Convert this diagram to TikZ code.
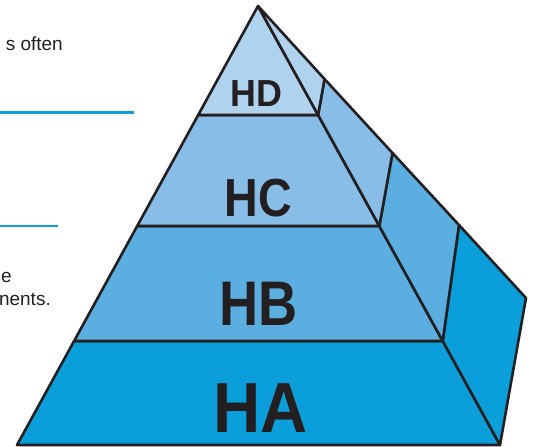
\documentclass[tikz,border=0pt]{standalone}
\usepackage{fontspec}
\setmainfont{Liberation Sans}
\definecolor{ink}{HTML}{231F20}
\definecolor{cHA}{HTML}{0A9FDA}
\definecolor{cHB}{HTML}{5BAFE0}
\definecolor{cHC}{HTML}{87BDE7}
\definecolor{cHD}{HTML}{AFD3EF}
\definecolor{rule}{HTML}{0AA0DC}
\tikzset{
  face/.style={draw=ink, line width=2.6pt, line join=round},
  lbl/.style={anchor=base, inner sep=0pt, text=ink},
  side/.style={anchor=base east, inner sep=0pt, text=ink, font=\fontsize{19}{23}\selectfont},
  bar/.style={draw=rule, line width=2.4pt}
}
\begin{document}
\begin{tikzpicture}[x=1pt,y=-1pt]
\useasboundingbox (0,0) rectangle (533,447);
% key points
\coordinate (A) at (258,6);
\coordinate (L1) at (198.2,115);
\coordinate (R1) at (318.1,115);
\coordinate (L2) at (137.2,226);
\coordinate (R2) at (379.3,226);
\coordinate (L3) at (74.1,341);
\coordinate (R3) at (442.7,341);
\coordinate (BL) at (17,445);
\coordinate (BR) at (500,445);
\coordinate (S1) at (324.5,79);
\coordinate (S2) at (392.5,153);
\coordinate (S3) at (459,225);
\coordinate (S4) at (526,298);
% faces
\filldraw[face, fill=cHA] (L3) -- (R3) -- (BR) -- (BL) -- cycle;
\filldraw[face, fill=cHA] (R3) -- (S3) -- (S4) -- (BR) -- cycle;
\filldraw[face, fill=cHB] (L2) -- (R2) -- (R3) -- (L3) -- cycle;
\filldraw[face, fill=cHB] (R2) -- (S2) -- (S3) -- (R3) -- cycle;
\filldraw[face, fill=cHC] (L1) -- (R1) -- (R2) -- (L2) -- cycle;
\filldraw[face, fill=cHC] (R1) -- (S1) -- (S2) -- (R2) -- cycle;
\filldraw[face, fill=cHD] (A) -- (R1) -- (L1) -- cycle;
\filldraw[face, fill=cHD] (A) -- (S1) -- (R1) -- cycle;
% labels
\node[lbl, font=\bfseries\fontsize{37.7}{40}\selectfont] (hd) at (256.5,106.7) {\scalebox{0.95}[1]{HD}};
\node[lbl, font=\bfseries\fontsize{53.6}{56}\selectfont] (hc) at (258.5,216.7) {\scalebox{0.87}[1]{HC}};
\node[lbl, font=\bfseries\fontsize{63}{66}\selectfont] (hb) at (259,325) {\scalebox{0.86}[1]{HB}};
\node[lbl, font=\bfseries\fontsize{71}{74}\selectfont] (ha) at (261,432.7) {\scalebox{0.92}[1]{HA}};
% left side text and rules
\node[side] (t1) at (63,50.7) {s often};
\node[side] (t2) at (12,282) {e};
\node[side] (t3) at (51,305.5) {nents.};
\draw[bar] (-2,112.3) -- (134,112.3);
\draw[bar] (-2,226) -- (58,226);
\end{tikzpicture}
\end{document}
